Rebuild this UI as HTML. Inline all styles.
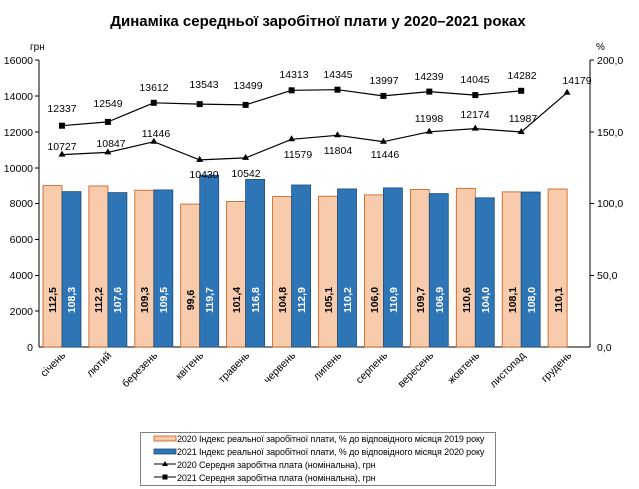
<!DOCTYPE html>
<html><head><meta charset="utf-8"><style>
body{margin:0;background:#fff}
svg{display:block;font-family:"Liberation Sans","DejaVu Sans",sans-serif}
</style></head><body>
<svg width="639" height="489" viewBox="0 0 639 489" xmlns="http://www.w3.org/2000/svg">
<text x="318" y="26" text-anchor="middle" font-size="15" font-weight="bold" fill="#000">Динаміка середньої заробітної плати у 2020–2021 роках</text>
<text x="30" y="50" font-size="10">грн</text>
<text x="596" y="50" font-size="10">%</text>
<g font-size="10.5" text-anchor="end">
<text x="33" y="64">16000</text><text x="33" y="100">14000</text><text x="33" y="136">12000</text><text x="33" y="172">10000</text><text x="33" y="207">8000</text><text x="33" y="243">6000</text><text x="33" y="279">4000</text><text x="33" y="315">2000</text><text x="33" y="351">0</text>
</g>
<g font-size="10.5">
<text x="597" y="64">200,0</text><text x="597" y="136">150,0</text><text x="597" y="207">100,0</text><text x="597" y="279">50,0</text><text x="597" y="351">0,0</text>
</g>
<g stroke="#000" stroke-width="1">
<line x1="39" y1="60" x2="39" y2="347"/><line x1="590" y1="60" x2="590" y2="347"/><line x1="39" y1="347" x2="590" y2="347"/>
<line x1="35" y1="60" x2="39" y2="60"/><line x1="35" y1="96" x2="39" y2="96"/><line x1="35" y1="132" x2="39" y2="132"/><line x1="35" y1="168" x2="39" y2="168"/><line x1="35" y1="203.5" x2="39" y2="203.5"/><line x1="35" y1="239.5" x2="39" y2="239.5"/><line x1="35" y1="275.5" x2="39" y2="275.5"/><line x1="35" y1="311" x2="39" y2="311"/>
<line x1="590" y1="60" x2="594" y2="60"/><line x1="590" y1="132" x2="594" y2="132"/><line x1="590" y1="203.5" x2="594" y2="203.5"/><line x1="590" y1="275.5" x2="594" y2="275.5"/>
</g>
<g fill="#f8cbad" stroke="#c55a11" stroke-width="0.8">
<rect x="43" y="185.6" width="19" height="161.4"/><rect x="88.9" y="186" width="19" height="161"/><rect x="134.8" y="190.2" width="19" height="156.8"/><rect x="180.7" y="204.1" width="19" height="142.9"/><rect x="226.6" y="201.5" width="19" height="145.5"/><rect x="272.6" y="196.6" width="19" height="150.4"/><rect x="318.5" y="196.2" width="19" height="150.8"/><rect x="364.4" y="194.9" width="19" height="152.1"/><rect x="410.3" y="189.6" width="19" height="157.4"/><rect x="456.3" y="188.3" width="19" height="158.7"/><rect x="502.2" y="191.9" width="19" height="155.1"/><rect x="548.1" y="189" width="19" height="158"/>
</g>
<g fill="#2e75b6" stroke="#1f4e79" stroke-width="0.8">
<rect x="62" y="191.6" width="19" height="155.4"/><rect x="107.9" y="192.6" width="19" height="154.4"/><rect x="153.8" y="189.9" width="19" height="157.1"/><rect x="199.7" y="175.2" width="19" height="171.8"/><rect x="245.6" y="179.4" width="19" height="167.6"/><rect x="291.6" y="185" width="19" height="162"/><rect x="337.5" y="188.9" width="19" height="158.1"/><rect x="383.4" y="187.9" width="19" height="159.1"/><rect x="429.3" y="193.6" width="19" height="153.4"/><rect x="475.3" y="197.8" width="19" height="149.2"/><rect x="521.2" y="192" width="19" height="155"/>
</g>
<g font-size="10.5" font-weight="bold" text-anchor="middle">
<g fill="#000">
<text transform="translate(56,300) rotate(-90)">112,5</text><text transform="translate(102,300) rotate(-90)">112,2</text><text transform="translate(148,300) rotate(-90)">109,3</text><text transform="translate(194,300) rotate(-90)">99,6</text><text transform="translate(240,300) rotate(-90)">101,4</text><text transform="translate(286,300) rotate(-90)">104,8</text><text transform="translate(332,300) rotate(-90)">105,1</text><text transform="translate(378,300) rotate(-90)">106,0</text><text transform="translate(424,300) rotate(-90)">109,7</text><text transform="translate(470,300) rotate(-90)">110,6</text><text transform="translate(516,300) rotate(-90)">108,1</text><text transform="translate(562,300) rotate(-90)">110,1</text>
</g>
<g fill="#fff">
<text transform="translate(75,300) rotate(-90)">108,3</text><text transform="translate(121,300) rotate(-90)">107,6</text><text transform="translate(167,300) rotate(-90)">109,5</text><text transform="translate(213,300) rotate(-90)">119,7</text><text transform="translate(259,300) rotate(-90)">116,8</text><text transform="translate(305,300) rotate(-90)">112,9</text><text transform="translate(351,300) rotate(-90)">110,2</text><text transform="translate(397,300) rotate(-90)">110,9</text><text transform="translate(443,300) rotate(-90)">106,9</text><text transform="translate(489,300) rotate(-90)">104,0</text><text transform="translate(535,300) rotate(-90)">108,0</text>
</g>
</g>
<polyline fill="none" stroke="#000" stroke-width="1.2" points="62,125.7 107.9,121.9 153.8,102.8 199.7,104.1 245.6,104.9 291.6,90.3 337.5,89.7 383.4,95.9 429.3,91.6 475.3,95.1 521.2,90.8"/>
<polyline fill="none" stroke="#000" stroke-width="1.2" points="62,154.6 107.9,152.4 153.8,141.7 199.7,159.9 245.6,157.9 291.6,139.3 337.5,135.3 383.4,141.7 429.3,131.8 475.3,128.6 521.2,132 567.1,92.7"/>
<g fill="#000">
<rect x="59" y="122.7" width="6" height="6"/><rect x="104.9" y="118.9" width="6" height="6"/><rect x="150.8" y="99.8" width="6" height="6"/><rect x="196.7" y="101.1" width="6" height="6"/><rect x="242.6" y="101.9" width="6" height="6"/><rect x="288.6" y="87.3" width="6" height="6"/><rect x="334.5" y="86.7" width="6" height="6"/><rect x="380.4" y="92.9" width="6" height="6"/><rect x="426.3" y="88.6" width="6" height="6"/><rect x="472.3" y="92.1" width="6" height="6"/><rect x="518.2" y="87.8" width="6" height="6"/>
<path d="M62,150.6l3.5,6h-7z M107.9,148.4l3.5,6h-7z M153.8,137.7l3.5,6h-7z M199.7,155.9l3.5,6h-7z M245.6,153.9l3.5,6h-7z M291.6,135.3l3.5,6h-7z M337.5,131.3l3.5,6h-7z M383.4,137.7l3.5,6h-7z M429.3,127.8l3.5,6h-7z M475.3,124.6l3.5,6h-7z M521.2,128l3.5,6h-7z M567.1,88.7l3.5,6h-7z"/>
</g>
<g font-size="10.5" text-anchor="middle">
<text x="62" y="112">12337</text><text x="108" y="107">12549</text><text x="154" y="91">13612</text><text x="204" y="88">13543</text><text x="248" y="89">13499</text><text x="294" y="78">14313</text><text x="338" y="78">14345</text><text x="384" y="84">13997</text><text x="429" y="80">14239</text><text x="475" y="83">14045</text><text x="522" y="79">14282</text>
<text x="62" y="150">10727</text><text x="111" y="147">10847</text><text x="156" y="137">11446</text><text x="204" y="178">10430</text><text x="246" y="177">10542</text><text x="298" y="158">11579</text><text x="338" y="154">11804</text><text x="385" y="158">11446</text><text x="429" y="122">11998</text><text x="475" y="118">12174</text><text x="523" y="122">11987</text><text x="577" y="84">14179</text>
</g>
<g font-size="10.5" text-anchor="end">
<text transform="translate(66,356) rotate(-45)">січень</text><text transform="translate(112,356) rotate(-45)">лютий</text><text transform="translate(158,356) rotate(-45)">березень</text><text transform="translate(204,356) rotate(-45)">квітень</text><text transform="translate(250,356) rotate(-45)">травень</text><text transform="translate(296,356) rotate(-45)">червень</text><text transform="translate(342,356) rotate(-45)">липень</text><text transform="translate(388,356) rotate(-45)">серпень</text><text transform="translate(434,356) rotate(-45)">вересень</text><text transform="translate(480,356) rotate(-45)">жовтень</text><text transform="translate(526,356) rotate(-45)">листопад</text><text transform="translate(572,356) rotate(-45)">грудень</text>
</g>
<rect x="140.5" y="432.5" width="355" height="53" fill="none" stroke="#808080" stroke-width="1"/>
<rect x="154" y="436" width="22" height="5" fill="#f8cbad" stroke="#c55a11" stroke-width="0.8"/>
<rect x="154" y="449" width="22" height="5" fill="#2e75b6" stroke="#1f4e79" stroke-width="0.8"/>
<line x1="154" y1="464" x2="176" y2="464" stroke="#000"/><path d="M165,461l3,5h-6z"/>
<line x1="154" y1="477" x2="176" y2="477" stroke="#000"/><rect x="162.5" y="474.5" width="5" height="5"/>
<g font-size="9" letter-spacing="-0.1">
<text x="177" y="442">2020 Індекс реальної заробітної плати, % до відповідного місяця 2019 року</text>
<text x="177" y="455">2021 Індекс реальної заробітної плати, % до відповідного місяця 2020 року</text>
<text x="177" y="468">2020 Середня заробітна плата (номінальна), грн</text>
<text x="177" y="481">2021 Середня заробітна плата (номінальна), грн</text>
</g>
</svg>
</body></html>
